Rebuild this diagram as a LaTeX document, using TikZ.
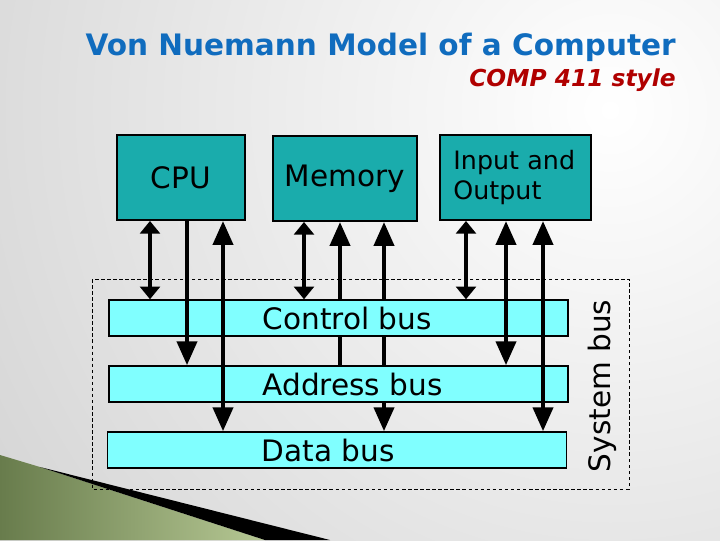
\documentclass[tikz,border=0pt]{standalone}
\usepackage{fontspec}
\setmainfont{DejaVu Sans}
\usetikzlibrary{arrows.meta}

\definecolor{unitteal}{RGB}{26,172,172}
\definecolor{buscyan}{RGB}{128,255,255}
\definecolor{titleblue}{RGB}{16,108,190}
\definecolor{subred}{RGB}{176,0,0}
\definecolor{wedgegreen}{RGB}{104,124,76}
\definecolor{wedgelight}{RGB}{182,200,148}

\begin{document}
\begin{tikzpicture}[x=0.025cm,y=-0.025cm,
	short/.style={line width=2.3pt,{Triangle[length=9pt,width=14pt]}-{Triangle[length=9pt,width=14pt]}},
	long/.style={line width=3.3pt,-{Triangle[length=17pt,width=14pt]}},
	longboth/.style={line width=3.3pt,{Triangle[length=17pt,width=14pt]}-{Triangle[length=17pt,width=14pt]}}]
	\useasboundingbox (0,0) rectangle (720,540);

	% slide background
	\begin{scope}
		\clip (0,0) rectangle (720,540);
		\shade[inner color=white,outer color=black!17] (610,110) circle (760);
		\shade[left color=wedgegreen,right color=wedgelight] (0,455) -- (40,467) -- (265,540) -- (0,540) -- cycle;
		\fill[black] (40,467) -- (330,540) -- (265,540) -- cycle;
	\end{scope}

	\node[anchor=base east,inner sep=0,text=titleblue,font=\bfseries\fontsize{21}{25}\selectfont] (title) at (676,55) {Von Nuemann Model of a Computer};
	\node[anchor=base east,inner sep=0,text=subred,font=\bfseries\itshape\fontsize{16.6}{20}\selectfont] (sub) at (676,86) {COMP 411 style};

	% system bus frame
	\draw[line width=0.6pt,dash pattern=on 2.5pt off 1.8pt] (92,279) rectangle (629,489);

	\begin{scope}[every node/.style={draw=black,line width=1.3pt,fill=unitteal,minimum height=2.125cm,font=\fontsize{21}{25}\selectfont}]
		\node[minimum width=3.2cm] (cpu) at (181,177.5) {CPU};
		\node[minimum width=3.6cm] (mem) at (345,178.5) {Memory};
		\node[minimum width=3.775cm,text width=3.1cm,align=left,font=\fontsize{18}{21.5}\selectfont] (io) at (515.5,177.5) {Input and\\Output};
	\end{scope}

	\begin{scope}[every node/.style={draw=black,line width=1pt,fill=buscyan,minimum width=11.475cm,minimum height=0.9cm}]
		\node (ctrl) at (338.5,318) {};
		\node (addr) at (338.5,384) {};
		\node (data) at (337,450) {};
	\end{scope}

	% columns of the connectors
	\coordinate (c1) at (150,0);
	\coordinate (c2) at (187,0);
	\coordinate (c3) at (223,0);
	\coordinate (m1) at (304,0);
	\coordinate (m2) at (340,0);
	\coordinate (m3) at (384,0);
	\coordinate (i1) at (466,0);
	\coordinate (i2) at (506,0);
	\coordinate (i3) at (543,0);

	\draw[short] (c1 |- cpu.south) -- (c1 |- ctrl.north);
	\draw[long] (c2 |- cpu.south) -- (c2 |- addr.north);
	\draw[longboth] (c3 |- cpu.south) -- (c3 |- data.north);

	\draw[short] (m1 |- mem.south) -- (m1 |- ctrl.north);
	\draw[long] (m2 |- addr.north) -- (m2 |- mem.south);
	\draw[longboth] (m3 |- mem.south) -- (m3 |- data.north);

	\draw[short] (i1 |- io.south) -- (i1 |- ctrl.north);
	\draw[longboth] (i2 |- io.south) -- (i2 |- addr.north);
	\draw[longboth] (i3 |- io.south) -- (i3 |- data.north);

	% bus names sit on a patch of the bus colour
	\begin{scope}[every node/.style={inner xsep=1pt,inner ysep=0,font=\fontsize{21}{25}\selectfont}]
		\node[anchor=west,fill=buscyan,minimum height=0.84cm] (ctrltext) at (261,318) {Control bus};
		\node[anchor=west,fill=buscyan,minimum height=0.84cm] (addrtext) at (261,384) {Address bus};
		\node[anchor=west,fill=buscyan,minimum height=0.84cm] (datatext) at (260,450) {Data bus};
		\node[rotate=90] (systext) at (602,386) {System bus};
	\end{scope}
\end{tikzpicture}
\end{document}
